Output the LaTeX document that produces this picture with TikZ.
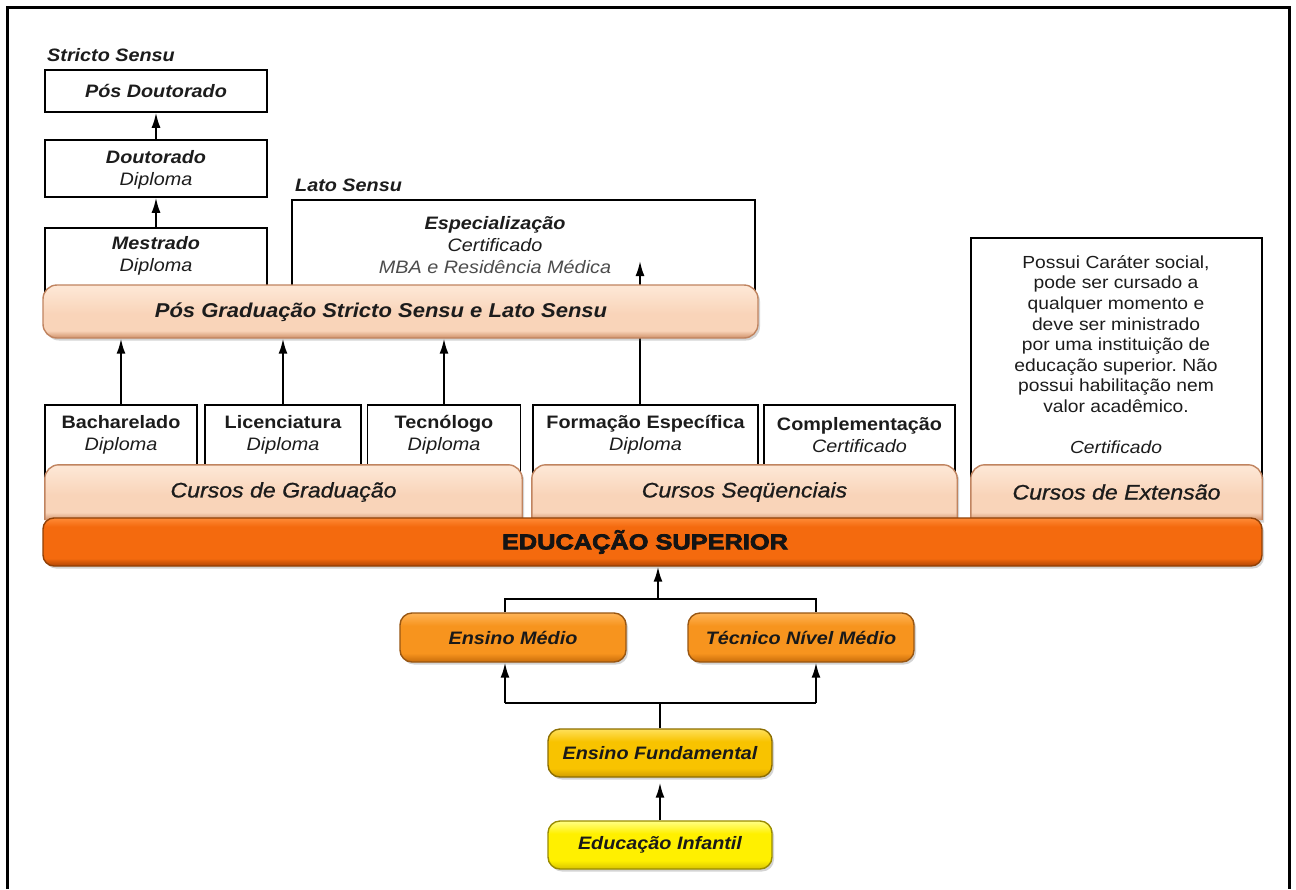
\documentclass[tikz,border=0pt]{standalone}
\usepackage{fontspec}
\setmainfont{Liberation Sans}[FakeStretch=1.1]
\newfontfamily\heavyfont{Liberation Sans}[FakeStretch=1.18,FakeBold=3.5]
\newfontfamily\midfont{Liberation Sans}[FakeStretch=1.1,FakeBold=0.9]
\usetikzlibrary{arrows.meta,shadows}

\definecolor{ink}{HTML}{1C1C1C}
\definecolor{peachTop}{HTML}{FDE6D4}
\definecolor{peachMid}{HTML}{F9D4B9}
\definecolor{peachBot}{HTML}{CF9069}
\definecolor{peachLine}{HTML}{C08460}
\definecolor{eduTop}{HTML}{FF8A36}
\definecolor{eduMid}{HTML}{F46A0E}
\definecolor{eduBot}{HTML}{B04606}
\definecolor{eduLine}{HTML}{904006}
\definecolor{medTop}{HTML}{FFB456}
\definecolor{medMid}{HTML}{F7941E}
\definecolor{medBot}{HTML}{C86C0A}
\definecolor{medLine}{HTML}{985612}
\definecolor{funTop}{HTML}{FFE05A}
\definecolor{funMid}{HTML}{F8C300}
\definecolor{funBot}{HTML}{D09C00}
\definecolor{funLine}{HTML}{8C6E00}
\definecolor{infTop}{HTML}{FFFF86}
\definecolor{infMid}{HTML}{FFF000}
\definecolor{infBot}{HTML}{D8C400}
\definecolor{infLine}{HTML}{9A8C00}

% vertical fills: light top, dark band at the bottom (path spans 25bp..75bp)
\pgfdeclareverticalshading{peachfill}{100bp}{color(0bp)=(peachBot); color(25bp)=(peachBot); color(32bp)=(peachMid); color(48bp)=(peachMid); color(72bp)=(peachTop); color(100bp)=(peachTop)}
\pgfdeclareverticalshading{edufill}{100bp}{color(0bp)=(eduBot); color(25bp)=(eduBot); color(33bp)=(eduMid); color(66bp)=(eduMid); color(75bp)=(eduTop); color(100bp)=(eduTop)}
\pgfdeclareverticalshading{medfill}{100bp}{color(0bp)=(medBot); color(25bp)=(medBot); color(34bp)=(medMid); color(62bp)=(medMid); color(75bp)=(medTop); color(100bp)=(medTop)}
\pgfdeclareverticalshading{funfill}{100bp}{color(0bp)=(funBot); color(25bp)=(funBot); color(34bp)=(funMid); color(62bp)=(funMid); color(75bp)=(funTop); color(100bp)=(funTop)}
\pgfdeclareverticalshading{inffill}{100bp}{color(0bp)=(infBot); color(25bp)=(infBot); color(34bp)=(infMid); color(62bp)=(infMid); color(75bp)=(infTop); color(100bp)=(infTop)}

\tikzset{
  uptip/.tip={Latex[length=15pt,width=9pt]}
}

\begin{document}
\frenchspacing
\begin{tikzpicture}[x=1pt,y=-1pt,
  every node/.style={text=ink},
  whitebox/.style={draw=black, line width=1.5pt, fill=white, inner sep=0pt},
  softshadow/.style={drop shadow={shadow xshift=2pt, shadow yshift=-2.5pt, opacity=0.28, fill=black!60}},
  peachbar/.style={draw=peachLine, line width=1.4pt, shading=peachfill, softshadow},
  edubar/.style={draw=eduLine, line width=1.4pt, shading=edufill, rounded corners=11pt, softshadow},
  medbox/.style={draw=medLine, line width=1.4pt, shading=medfill, rounded corners=12pt, softshadow, inner sep=0pt, minimum width=226, minimum height=49},
  funbox/.style={draw=funLine, line width=1.4pt, shading=funfill, rounded corners=12pt, softshadow, inner sep=0pt, minimum width=224, minimum height=48},
  infbox/.style={draw=infLine, line width=1.4pt, shading=inffill, rounded corners=12pt, softshadow, inner sep=0pt, minimum width=224, minimum height=48},
  hdrtxt/.style={font=\fontsize{18}{21}\selectfont\bfseries\itshape, inner sep=0pt},
  boxtxt/.style={font=\fontsize{18}{21.5}\selectfont, align=center, inner sep=0pt},
  notetxt/.style={font=\fontsize{17.5}{20.6}\selectfont, align=center, inner sep=0pt},
  postxt/.style={font=\fontsize{20}{24}\selectfont\bfseries\itshape, inner sep=0pt},
  cursotxt/.style={font=\fontsize{21}{24}\midfont\itshape, inner sep=0pt},
  edutxt/.style={font=\fontsize{21.5}{24}\heavyfont\bfseries, inner sep=0pt, text=black!92},
  basetxt/.style={font=\fontsize{18}{21}\selectfont\bfseries\itshape, inner sep=0pt, text=black!90},
  arr/.style={-uptip, line width=2pt},
  link/.style={line width=2pt}
]
\useasboundingbox (0,0) rectangle (1296,889);
\fill[white] (0,0) rectangle (1296,889);

% outer frame, open at the bottom
\draw[line width=3pt] (7,889) -- (7,7) -- (1289,7) -- (1289,889);

% ---------- Stricto Sensu column ----------
\node[hdrtxt, anchor=base west] (stricto) at (47,61) {Stricto Sensu};
\node[whitebox, minimum width=222, minimum height=42] (posdout) at (156,91)
  {\fontsize{18}{21}\selectfont\bfseries\itshape Pós Doutorado};
\node[whitebox, minimum width=222, minimum height=57] (dout) at (156,168.5) {};
\node[boxtxt] (doutT) at (156,170) {\bfseries\itshape Doutorado\\\itshape Diploma};
\node[whitebox, minimum width=222, minimum height=72] (mest) at (156,264) {};
\node[boxtxt] (mestT) at (156,256) {\bfseries\itshape Mestrado\\\itshape Diploma};
\draw[arr] (dout.north) -- (posdout.south);
\draw[arr] (mest.north) -- (dout.south);

% ---------- Lato Sensu ----------
\node[hdrtxt, anchor=base west] (lato) at (295,191) {Lato Sensu};
\node[whitebox, minimum width=463, minimum height=100] (esp) at (523.5,250) {};
\node[boxtxt, font=\fontsize{18}{22}\selectfont] (espT) at (495,245)
  {\bfseries\itshape Especialização\\\itshape Certificado\\\itshape\textcolor{black!70}{MBA e Residência Médica}};

% ---------- undergraduate / sequential / extension boxes ----------
\node[whitebox, minimum width=152, minimum height=75] (bach) at (121,442.5) {};
\node[boxtxt] (bachT) at (121,435) {\bfseries Bacharelado\\\itshape Diploma};
\node[whitebox, minimum width=156, minimum height=75] (lic) at (283,442.5) {};
\node[boxtxt] (licT) at (283,435) {\bfseries Licenciatura\\\itshape Diploma};
\node[whitebox, minimum width=153, minimum height=75] (tec) at (444,442.5) {};
\node[boxtxt] (tecT) at (444,435) {\bfseries Tecnólogo\\\itshape Diploma};
\node[whitebox, minimum width=225, minimum height=75] (form) at (645.5,442.5) {};
\node[boxtxt] (formT) at (645.5,435) {\bfseries Formação Específica\\\itshape Diploma};
\node[whitebox, minimum width=191, minimum height=75] (comp) at (859.5,442.5) {};
\node[boxtxt] (compT) at (859.5,435) {\bfseries Complementação\\\itshape Certificado};
\node[whitebox, minimum width=291, minimum height=242] (ext) at (1116.5,359) {};
\node[notetxt] (extT) at (1116,334) {Possui Caráter social,\\pode ser cursado a\\qualquer momento e\\deve ser ministrado\\por uma instituição de\\educação superior. Não\\possui habilitação nem\\valor acadêmico.};
\node[notetxt, font=\fontsize{17.5}{20.6}\selectfont\itshape] (extC) at (1116,447) {Certificado};

% arrow from Formação Específica up into Especialização (runs behind the bar)
\coordinate (espIn) at (640,261);
\draw[arr] (form.north -| espIn) -- (espIn);

% ---------- Pós Graduação bar ----------
\node[peachbar, rounded corners=14pt, minimum width=715, minimum height=53, inner sep=0pt] (posg) at (400.5,311.5) {};
\node[postxt] (posgT) at (381,312) {Pós Graduação Stricto Sensu e Lato Sensu};
\draw[arr] (bach.north) -- (bach.north |- posg.south);
\draw[arr] (lic.north) -- (lic.north |- posg.south);
\draw[arr] (tec.north) -- (tec.north |- posg.south);

% ---------- course bars (bottom hidden by the main bar) ----------
\node[minimum width=477, minimum height=55, inner sep=0pt] (cgrad) at (283.5,492.5) {};
\node[minimum width=425, minimum height=55, inner sep=0pt] (cseq) at (744.5,492.5) {};
\node[minimum width=291, minimum height=55, inner sep=0pt] (cext) at (1116.5,492.5) {};
\draw[peachbar, rounded corners=14pt] (cgrad.south west) -- (cgrad.north west) -- (cgrad.north east) -- (cgrad.south east);
\draw[peachbar, rounded corners=14pt] (cseq.south west) -- (cseq.north west) -- (cseq.north east) -- (cseq.south east);
\draw[peachbar, rounded corners=14pt] (cext.south west) -- (cext.north west) -- (cext.north east) -- (cext.south east);
\node[cursotxt] (cgradT) at (283.5,492) {Cursos de Graduação};
\node[cursotxt] (cseqT) at (744.5,492) {Cursos Seqüenciais};
\node[cursotxt] (cextT) at (1116.5,492) {Cursos de Extensão};

% ---------- Educação Superior ----------
\node[edubar, minimum width=1219, minimum height=48, inner sep=0pt] (edu) at (652.5,542) {};
\node[edutxt] (eduT) at (645,542) {EDUCAÇÃO SUPERIOR};

% ---------- secondary level ----------
\node[medbox] (em) at (513,637.5) {};
\node[basetxt] (emT) at (513,637.5) {Ensino Médio};
\node[medbox] (tnm) at (801,637.5) {};
\node[basetxt] (tnmT) at (801,637.5) {Técnico Nível Médio};

\coordinate (jl) at (505,599);
\coordinate (jr) at (816,599);
\coordinate (jm) at (658,599);
\draw[link] (jl |- em.north) -- (jl) -- (jr) -- (jr |- tnm.north);
\draw[arr] (jm) -- (jm |- edu.south);

% ---------- basic levels ----------
\node[funbox] (fund) at (660,753) {};
\node[basetxt] (fundT) at (660,753) {Ensino Fundamental};
\node[infbox] (inf) at (660,845) {};
\node[basetxt] (infT) at (660,845) {Educação Infantil};

\coordinate (kl) at (505,703);
\coordinate (kr) at (816,703);
\draw[link] (kl) -- (kr);
\draw[link] (fund.north) -- (fund.north |- kl);
\draw[arr] (kl) -- (kl |- em.south);
\draw[arr] (kr) -- (kr |- tnm.south);
\draw[arr, shorten >=5pt] (inf.north) -- (fund.south);
\end{tikzpicture}
\end{document}
